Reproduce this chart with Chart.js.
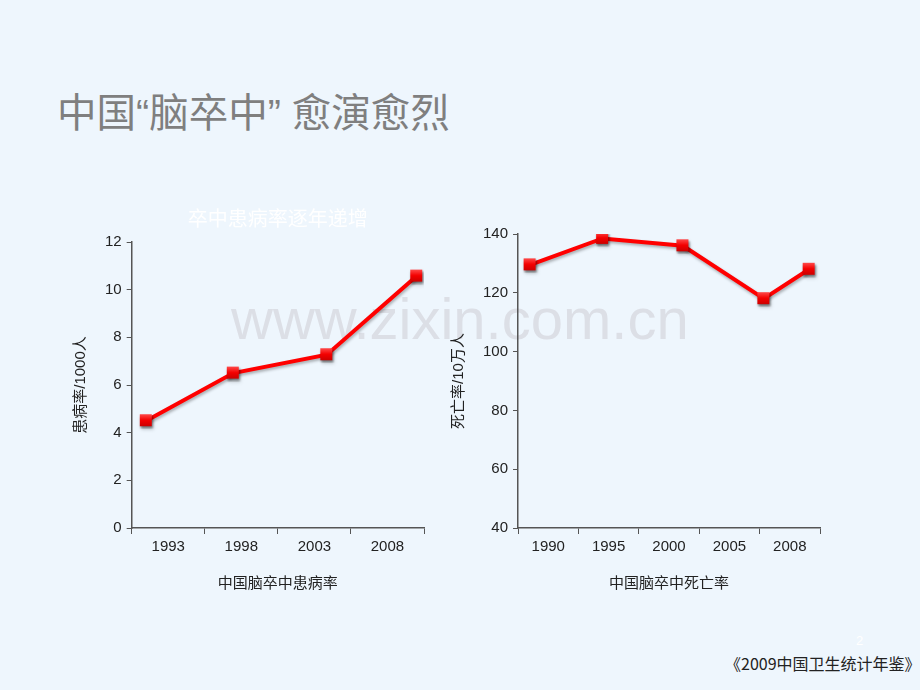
<!DOCTYPE html>
<html>
<head>
<meta charset="utf-8">
<script src="https://cdn.jsdelivr.net/npm/chart.js@4.4.0/dist/chart.umd.min.js"></script>
<style>
  body { margin: 0; background: #eef6fd; }
  #page { position: relative; width: 920px; height: 690px; overflow: hidden; background: #eef6fd;
          font-family: "Liberation Sans", "Noto Sans CJK SC", sans-serif; }
  #title { position: absolute; left: 57px; top: 81px; font-size: 39.5px; color: #7f7f7f;
           font-family: "Liberation Sans", "Noto Sans CJK SC", sans-serif; white-space: nowrap; }
  #mark { position: absolute; left: 231px; top: 285px; font-size: 58px; color: #dcdfe6;
          font-family: "Liberation Sans", sans-serif; white-space: nowrap; }
  #src { position: absolute; left: 725px; top: 651px; font-size: 16px; color: #222;
         font-family: "Noto Sans CJK SC", sans-serif; white-space: nowrap; }
  #pg { position: absolute; left: 856px; top: 633px; font-size: 13px; color: #ffffff; }
  .box { position: absolute; }
</style>
</head>
<body>
<div id="page">
  <div id="title">中国“脑卒中” 愈演愈烈</div>
  <div id="mark">www.zixin.com.cn</div>
  <div class="box" style="left:60px; top:196px; width:380px; height:410px;"><canvas id="incidence"></canvas></div>
  <div class="box" style="left:440px; top:196px; width:400px; height:410px;"><canvas id="death"></canvas></div>
  <div id="pg">2</div>
  <div id="src">《2009中国卫生统计年鉴》</div>
</div>
<script>
// left chart: incidence per 1000
var incYears = ['1993', '1998', '2003', '2008'];
var incPos = [0.2, 1.39, 2.67, 3.9];      // where each point sits along the year axis (in slots)
var incValues = [4.5, 6.5, 7.27, 10.57];
var incTicks = [0, 2, 4, 6, 8, 10, 12];

// right chart: deaths per 100 000
var deathYears = ['1990', '1995', '2000', '2005', '2008'];
var deathPos = [0.2, 1.4, 2.73, 4.07, 4.82];
var deathValues = [129.5, 138.5, 136, 118, 128];
var deathTicks = [40, 60, 80, 100, 120, 140];

var tickFont = { family: '"Liberation Sans", "Noto Sans CJK SC", sans-serif', size: 15 };
var cjkFont = { family: '"Liberation Sans", "Noto Sans CJK SC", sans-serif', size: 15 };

// red square marker with a little shading
function makeMarker() {
    var c = document.createElement('canvas');
    c.width = 17; c.height = 17;
    var g = c.getContext('2d');
    g.shadowColor = 'rgba(0,0,0,0.35)';
    g.shadowBlur = 2;
    g.shadowOffsetX = 1;
    g.shadowOffsetY = 1.5;
    var grad = g.createLinearGradient(0, 2, 0, 14);
    grad.addColorStop(0, '#ff4a4a');
    grad.addColorStop(0.5, '#f40000');
    grad.addColorStop(1, '#cc0000');
    g.fillStyle = grad;
    g.fillRect(2, 2, 12, 12);
    return c;
}
var marker = makeMarker();

var lineShadow = {
    id: 'lineShadow',
    beforeDatasetDraw: function (chart) {
        var ctx = chart.ctx;
        ctx.save();
        ctx.shadowColor = 'rgba(0,0,0,0.3)';
        ctx.shadowBlur = 3;
        ctx.shadowOffsetX = 1;
        ctx.shadowOffsetY = 2;
    },
    afterDatasetDraw: function (chart) {
        chart.ctx.restore();
    }
};

// title centred over the plot area rather than the whole canvas
var areaTitle = {
    id: 'areaTitle',
    afterDraw: function (chart, args, opts) {
        if (!opts.text) return;
        var ctx = chart.ctx;
        var a = chart.chartArea;
        ctx.save();
        ctx.fillStyle = opts.color;
        ctx.font = opts.font;
        ctx.textAlign = 'center';
        ctx.textBaseline = 'middle';
        ctx.fillText(opts.text, (a.left + a.right) / 2, a.top - opts.offset);
        ctx.restore();
    }
};

function createLineChart(id, years, pos, values, yTicks, yTitle, xTitle, chartTitle, pad) {
    var points = pos.map(function (p, i) { return { x: p, y: values[i] }; });
    var n = years.length;
    return new Chart(document.getElementById(id), {
        type: 'line',
        data: {
            datasets: [{
                data: points,
                borderColor: '#ff0000',
                borderWidth: 4,
                pointStyle: marker,
                pointRadius: 8,
                tension: 0
            }]
        },
        plugins: [lineShadow, areaTitle],
        options: {
            responsive: true,
            maintainAspectRatio: false,
            animation: false,
            layout: { padding: pad },
            plugins: {
                legend: { display: false },
                tooltip: { enabled: false },
                areaTitle: {
                    text: chartTitle,
                    color: '#ffffff',
                    font: '20px "Noto Sans CJK SC", sans-serif',
                    offset: 24
                }
            },
            scales: {
                x: {
                    type: 'linear',
                    min: 0,
                    max: n,
                    afterBuildTicks: function (axis) {
                        var t = [];
                        for (var i = 0; i <= n * 2; i++) t.push({ value: i / 2 });
                        axis.ticks = t;
                    },
                    ticks: {
                        autoSkip: false,
                        maxRotation: 0,
                        color: '#222',
                        font: tickFont,
                        padding: 4,
                        callback: function (v) {
                            return (v % 1 === 0.5) ? years[Math.floor(v)] : '';
                        }
                    },
                    grid: {
                        drawOnChartArea: false,
                        tickLength: 6,
                        tickColor: function (c) {
                            return (c.tick && c.tick.value % 1 === 0) ? '#555' : 'rgba(0,0,0,0)';
                        }
                    },
                    border: { color: '#555', width: 1.5 },
                    title: { display: true, text: xTitle, color: '#222', font: cjkFont, padding: { top: 15 } }
                },
                y: {
                    min: yTicks[0],
                    max: yTicks[yTicks.length - 1],
                    afterBuildTicks: function (axis) {
                        axis.ticks = yTicks.map(function (v) { return { value: v }; });
                    },
                    ticks: { color: '#222', font: tickFont, padding: 5 },
                    grid: { drawOnChartArea: false, tickLength: 5, tickColor: '#555' },
                    border: { color: '#555', width: 1.5 },
                    title: { display: true, text: yTitle, color: '#222', font: cjkFont, padding: { bottom: 10 } }
                }
            }
        }
    });
}

createLineChart('incidence', incYears, incPos, incValues, incTicks,
    '患病率/1000人', '中国脑卒中患病率', '卒中患病率逐年递增', { left: 8, right: 16, top: 46, bottom: 9 });
createLineChart('death', deathYears, deathPos, deathValues, deathTicks,
    '死亡率/10万人', '中国脑卒中死亡率', '', { left: 6, right: 20, top: 38, bottom: 9 });
</script>
</body>
</html>
